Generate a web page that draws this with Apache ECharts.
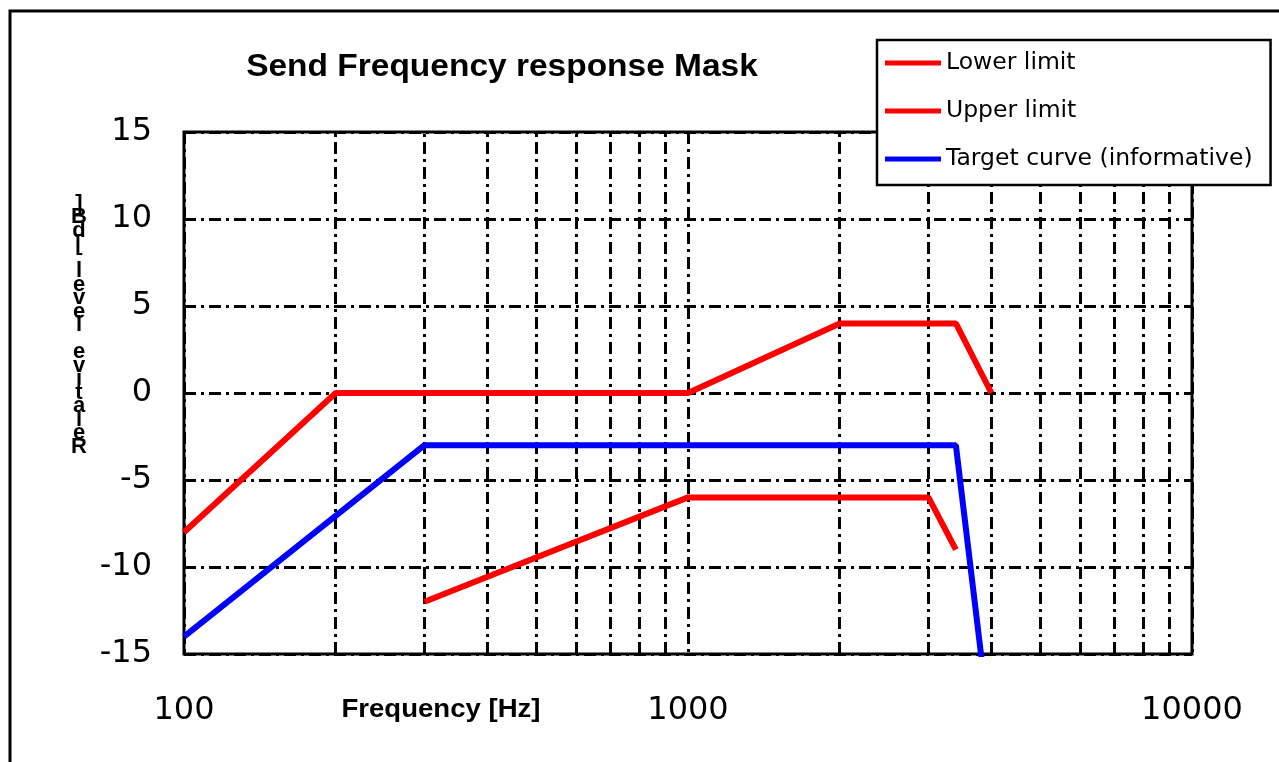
<!DOCTYPE html>
<html>
<head>
<meta charset="utf-8">
<script src="https://cdn.jsdelivr.net/npm/echarts@6/dist/echarts.min.js"></script>
<style>
  html, body { margin: 0; padding: 0; background: #fff; }
  #mask { width: 1279px; height: 762px; }
</style>
</head>
<body>
<div id="mask"></div>
<script>
const lowerFreq = [300, 1000, 3000, 3400];
const lowerLevel = [-12, -6, -6, -9];
const upperFreq = [100, 200, 1000, 2000, 3400, 4000];
const upperLevel = [-8, 0, 0, 4, 4, 0];
const targetFreq = [100, 300, 3400, 4000];
const targetLevel = [-14, -3, -3, -20];
const minorGridFreq = [200, 300, 400, 500, 600, 700, 800, 900, 2000, 3000, 4000, 5000, 6000, 7000, 8000, 9000];
const seriesNames = ["Lower limit", "Upper limit", "Target curve (informative)"];
const yAxisTitle = "Relative level [dB]";

const pairs = (xs, ys) => xs.map((x, i) => [x, ys[i]]);
const dashDot = [12, 5, 3, 5];

const chart = echarts.init(document.getElementById("mask"));

let option = {
  animation: false,
  backgroundColor: "#fff",
  grid: {
    left: 184,
    right: 87,
    top: 132,
    bottom: 108,
    show: true,
    borderColor: "#000",
    borderWidth: 3,
    backgroundColor: "transparent",
  },
  legend: {
    orient: "vertical",
    left: 877,
    top: 40,
    z: 20,
    data: seriesNames,
    icon: "rect",
    backgroundColor: "#fff",
    borderColor: "#000",
    borderWidth: 2.5,
    padding: [11, 18, 14, 8],
    itemWidth: 56,
    itemHeight: 5,
    itemGap: 24,
    textStyle: {
      fontFamily: "DejaVu Sans",
      fontSize: 23.5,
      lineHeight: 22,
      color: "#000",
    },
  },
  xAxis: {
    type: "log",
    logBase: 10,
    min: 100,
    max: 10000,
    splitNumber: 2,
    axisLine: { show: false },
    axisTick: { show: false },
    axisLabel: {
      margin: 41,
      fontFamily: "DejaVu Sans",
      fontSize: 32,
      color: "#000",
      formatter: (v) => String(Math.round(v)),
    },
    splitLine: {
      show: true,
      lineStyle: { color: "#000", width: 3, type: dashDot },
    },
  },
  yAxis: {
    type: "value",
    min: -15,
    max: 15,
    interval: 5,
    axisLine: { show: false },
    axisTick: { show: false },
    axisLabel: {
      margin: 32,
      padding: [14, 0, 0, 0],
      fontFamily: "DejaVu Sans",
      fontSize: 32,
      color: "#000",
    },
    splitLine: {
      show: true,
      lineStyle: { color: "#000", width: 3, type: dashDot },
    },
  },
  graphic: [
    {
      type: "rect",
      shape: { x: 10, y: 11, width: 1320, height: 820 },
      style: { fill: "none", stroke: "#000", lineWidth: 3 },
      silent: true,
    },
    {
      type: "text",
      x: 502,
      y: 67,
      scaleX: 1.08,
      style: {
        text: "Send Frequency response Mask",
        fontFamily: "Liberation Sans",
        fontWeight: "bold",
        fontSize: 31,
        fill: "#000",
        align: "center",
        verticalAlign: "middle",
      },
    },
    {
      type: "text",
      x: 441,
      y: 710,
      scaleX: 1.06,
      style: {
        text: "Frequency [Hz]",
        fontFamily: "Liberation Sans",
        fontWeight: "bold",
        fontSize: 26,
        fill: "#000",
        align: "center",
        verticalAlign: "middle",
      },
    },
    {
      // stacked, reversed glyphs like the original export
      type: "text",
      x: 79,
      y: 197,
      style: {
        text: yAxisTitle.split("").reverse().join("\n"),
        fontFamily: "Liberation Sans",
        fontWeight: "bold",
        fontSize: 22,
        lineHeight: 13.5,
        fill: "#000",
        align: "center",
        verticalAlign: "top",
      },
    },
  ],
  series: [
    {
      // vertical minor grid lines of the log axis
      type: "line",
      data: [],
      z: 1,
      silent: true,
      markLine: {
        z: 1,
        silent: true,
        symbol: "none",
        label: { show: false },
        lineStyle: { color: "#000", width: 3, type: dashDot },
        data: minorGridFreq.map((f) => ({ xAxis: f })),
      },
    },
    {
      name: seriesNames[0],
      type: "line",
      z: 3,
      data: pairs(lowerFreq, lowerLevel),
      symbol: "none",
      color: "#ff0000",
      lineStyle: { width: 6, color: "#ff0000" },
    },
    {
      name: seriesNames[1],
      type: "line",
      z: 3,
      data: pairs(upperFreq, upperLevel),
      symbol: "none",
      color: "#ff0000",
      lineStyle: { width: 6, color: "#ff0000" },
    },
    {
      name: seriesNames[2],
      type: "line",
      z: 3,
      clip: true,
      data: pairs(targetFreq, targetLevel),
      symbol: "none",
      color: "#0000ff",
      lineStyle: { width: 6, color: "#0000ff" },
    },
  ],
};

chart.setOption(option);
</script>
</body>
</html>
